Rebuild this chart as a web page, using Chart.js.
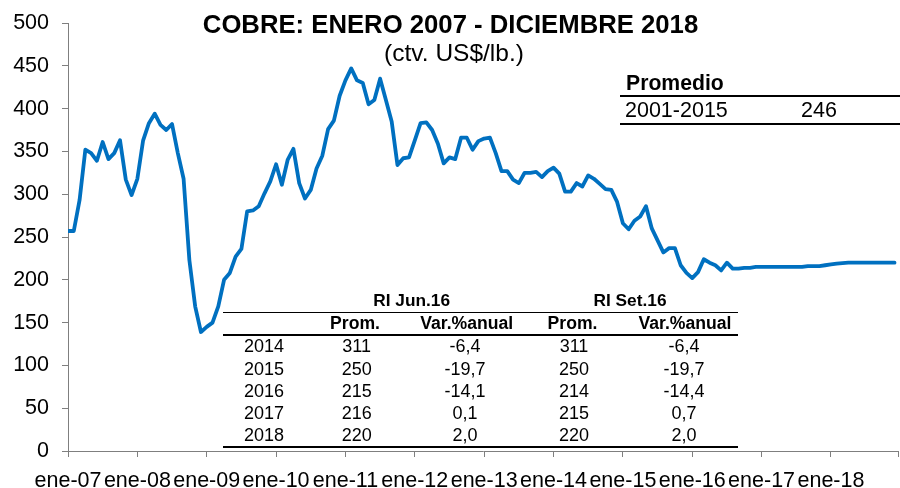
<!DOCTYPE html>
<html>
<head>
<meta charset="utf-8">
<script src="https://cdn.jsdelivr.net/npm/chart.js@4.4.1/dist/chart.umd.min.js"></script>
<style>
  html, body { margin: 0; padding: 0; background: #fff; }
  #wrap { position: relative; width: 900px; height: 488px; overflow: hidden; font-family: "Liberation Sans", Arial, sans-serif; color: #000; }
  #c { position: absolute; left: 0; top: 0; }
  .t { position: absolute; white-space: nowrap; line-height: 1; }
  .b { font-weight: bold; }
  .hl { position: absolute; background: #000; }
</style>
</head>
<body>
<div id="wrap">
  <canvas id="c" width="900" height="488"></canvas>
  <div id="overlay"></div>
</div>
<script>
// ---- DATA (monthly copper price, ctv. US$/lb., Jan 2007 - Dec 2018) ----
const y2007 = [257, 257, 293, 352, 348, 339, 361, 341, 348, 363, 317, 299];
const y2008 = [318, 363, 383, 394, 381, 375, 382, 348, 318, 223, 169, 139];
const y2009 = [145, 150, 169, 200, 208, 227, 236, 280, 281, 286, 301, 315];
const y2010 = [335, 311, 340, 353, 313, 295, 305, 330, 345, 376, 386, 415];
const y2011 = [433, 447, 433, 430, 405, 410, 435, 410, 385, 334, 342, 343];
const y2012 = [363, 383, 384, 375, 359, 336, 343, 341, 366, 366, 352, 362];
const y2013 = [365, 366, 348, 327, 327, 317, 313, 325, 325, 326, 320, 327];
const y2014 = [331, 324, 303, 303, 313, 309, 322, 318, 312, 306, 305, 291];
const y2015 = [266, 259, 269, 274, 286, 260, 246, 232, 237, 237, 217, 208];
const y2016 = [202, 209, 224, 220, 217, 211, 220, 213, 213, 214, 214, 215];
const y2017 = [215, 215, 215, 215, 215, 215, 215, 215, 216, 216, 216, 217];
const y2018 = [218, 219, 219.5, 220, 220, 220, 220, 220, 220, 220, 220, 220];
const xTickLabels = ["ene-07","ene-08","ene-09","ene-10","ene-11","ene-12","ene-13","ene-14","ene-15","ene-16","ene-17","ene-18"];
const yTicks = [0, 50, 100, 150, 200, 250, 300, 350, 400, 450, 500];

const title = "COBRE: ENERO 2007 - DICIEMBRE 2018";
const subtitle = "(ctv. US$/lb.)";
const promHeader = "Promedio";
const promPeriod = "2001-2015";
const promValue = "246";

const tableYears = ["2014", "2015", "2016", "2017", "2018"];
const riJunProm = ["311", "250", "215", "216", "220"];
const riJunVar = ["-6,4", "-19,7", "-14,1", "0,1", "2,0"];
const riSetProm = ["311", "250", "214", "215", "220"];
const riSetVar = ["-6,4", "-19,7", "-14,4", "0,7", "2,0"];

const prices = [].concat(y2007, y2008, y2009, y2010, y2011, y2012, y2013, y2014, y2015, y2016, y2017, y2018);
const points = prices.map((v, i) => ({ x: i, y: v }));

const AXIS_COLOR = "#7f7f7f";
const LINE_COLOR = "#0070C0";
const X_MAX = 143.6;
const TICK_FONT = { family: "'Liberation Sans', Arial, sans-serif", size: 21.5 };

new Chart(document.getElementById("c"), {
  type: "line",
  data: {
    datasets: [{
      data: points,
      borderColor: LINE_COLOR,
      borderWidth: 3.8,
      pointRadius: 0,
      tension: 0,
      borderJoinStyle: "round",
      borderCapStyle: "round",
      fill: false
    }]
  },
  options: {
    responsive: false,
    devicePixelRatio: 1,
    animation: false,
    events: [],
    layout: { padding: { top: 23, right: 2, left: 0, bottom: 0 } },
    plugins: { legend: { display: false }, tooltip: { enabled: false }, title: { display: false } },
    scales: {
      x: {
        type: "linear",
        min: 0,
        max: X_MAX,
        afterBuildTicks: (s) => {
          const t = xTickLabels.map((_, i) => ({ value: i * 12 }));
          t.push({ value: X_MAX });
          s.ticks = t;
        },
        afterFit: (s) => { s.height = 37; s.paddingLeft = 0; s.paddingRight = 0; },
        border: { display: true, color: AXIS_COLOR, width: 1 },
        grid: { display: true, drawOnChartArea: false, drawTicks: true, tickLength: 6, color: AXIS_COLOR },
        ticks: {
          autoSkip: false,
          maxRotation: 0,
          minRotation: 0,
          padding: 11,
          color: "#000",
          font: TICK_FONT,
          callback: (v) => {
            const idx = v / 12;
            return Number.isInteger(idx) && idx < xTickLabels.length ? xTickLabels[idx] : "";
          }
        }
      },
      y: {
        min: 0,
        max: 500,
        afterBuildTicks: (s) => { s.ticks = yTicks.map(v => ({ value: v })); },
        afterFit: (s) => { s.width = 68; s.paddingTop = 0; s.paddingBottom = 0; },
        border: { display: true, color: AXIS_COLOR, width: 1 },
        grid: { display: true, drawOnChartArea: false, drawTicks: true, tickLength: 6, color: AXIS_COLOR },
        ticks: {
          padding: 13,
          color: "#000",
          font: TICK_FONT
        }
      }
    }
  }
});

// ---- overlay text (title, subtitle, tables) ----
const ov = document.getElementById("overlay");
function txt(s, x, baseline, size, opts = {}) {
  const d = document.createElement("div");
  d.className = "t" + (opts.bold ? " b" : "");
  d.textContent = s;
  d.style.fontSize = size + "px";
  d.style.top = (baseline - 0.8465 * size) + "px";
  if (opts.align === "center") {
    d.style.left = x + "px";
    d.style.transform = "translateX(-50%)";
  } else {
    d.style.left = x + "px";
  }
  ov.appendChild(d);
}
function hline(x1, x2, y, h) {
  const d = document.createElement("div");
  d.className = "hl";
  d.style.left = x1 + "px";
  d.style.width = (x2 - x1) + "px";
  d.style.top = (y - h / 2) + "px";
  d.style.height = h + "px";
  ov.appendChild(d);
}

txt(title, 450.5, 33.4, 25.7, { bold: true, align: "center" });
txt(subtitle, 454, 61.7, 24.5, { align: "center" });

// Promedio table
txt(promHeader, 626, 90, 21.2, { bold: true });
hline(620, 900, 96, 2);
txt(promPeriod, 625, 118.3, 21.5);
txt(promValue, 819, 118.3, 21.5, { align: "center" });
hline(620, 900, 124, 2);

// RI table
const TS = 18;
txt("RI Jun.16", 411.7, 306.7, 17.3, { bold: true, align: "center" });
txt("RI Set.16", 630, 306.7, 17.3, { bold: true, align: "center" });
hline(223, 738, 312.3, 1.6);
txt("Prom.", 355, 330, 17.6, { bold: true, align: "center" });
txt("Var.%anual", 466.7, 330, 17.6, { bold: true, align: "center" });
txt("Prom.", 572.5, 330, 17.6, { bold: true, align: "center" });
txt("Var.%anual", 685, 330, 17.6, { bold: true, align: "center" });
hline(223, 738, 335, 1.4);
tableYears.forEach((yr, i) => {
  const bl = 352.7 + i * 22.25;
  txt(yr, 264, bl, TS, { align: "center" });
  txt(riJunProm[i], 356.7, bl, TS, { align: "center" });
  txt(riJunVar[i], 465, bl, TS, { align: "center" });
  txt(riSetProm[i], 574, bl, TS, { align: "center" });
  txt(riSetVar[i], 684, bl, TS, { align: "center" });
});
hline(223, 738, 446.7, 2);
</script>
</body>
</html>
